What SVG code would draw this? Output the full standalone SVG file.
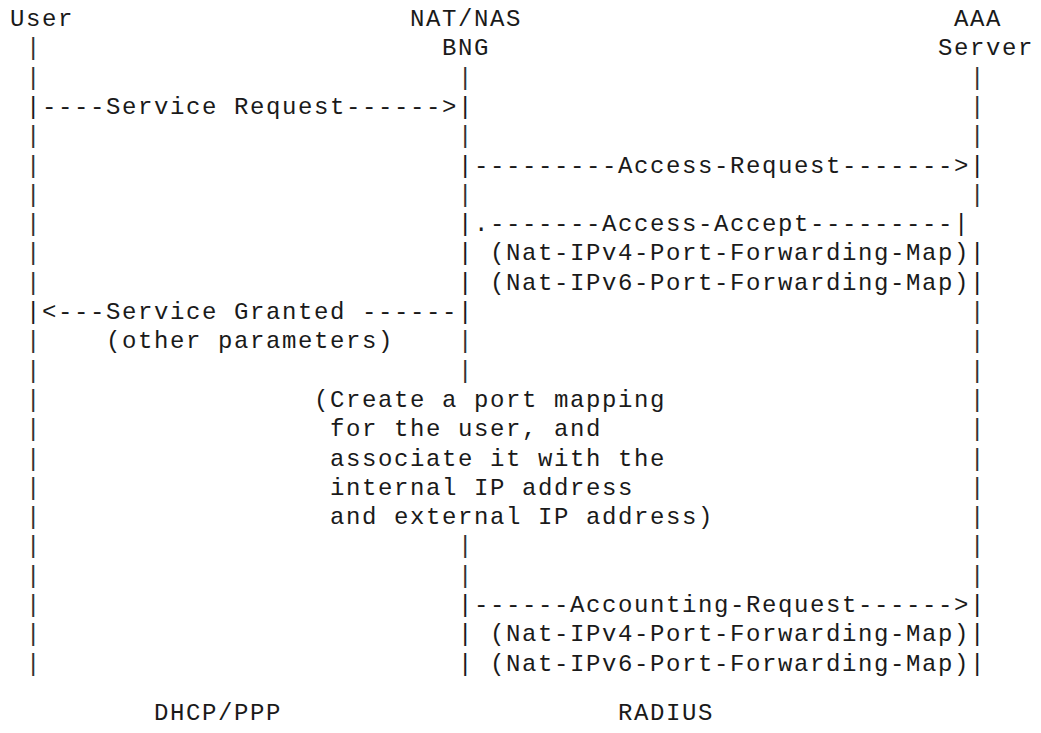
<svg xmlns="http://www.w3.org/2000/svg" width="1041" height="733" viewBox="0 0 1041 733" xml:space="preserve">
  <style>
    /* monospace grid: 16px per column, 29.3px per row */
    text { font-family: "Liberation Mono", "Courier New", monospace; font-size: 24px; letter-spacing: 1.6px; fill: #1a1a1a; white-space: pre; }
    .bar { fill: #333; }
  </style>
  <rect width="1041" height="733" fill="#fff"/>

  <!-- participants -->
  <g id="node-user">
    <text x="10" y="26">User</text>
  </g>
  <g id="node-bng">
    <text x="410" y="26">NAT/NAS</text>
    <text x="442" y="55.3">BNG</text>
  </g>
  <g id="node-aaa">
    <text x="954" y="26">AAA</text>
    <text x="938" y="55.3">Server</text>
  </g>

  <!-- lifelines and messages -->
  <g id="connectors">
    <!-- User lifeline, column 1 -->
    <g class="bar">
      <text class="bar" x="26" y="55.3">|</text>
      <text class="bar" x="26" y="84.6">|</text>
      <text class="bar" x="26" y="143.2">|</text>
      <text class="bar" x="26" y="172.5">|</text>
      <text class="bar" x="26" y="201.8">|</text>
      <text class="bar" x="26" y="231.1">|</text>
      <text class="bar" x="26" y="260.4">|</text>
      <text class="bar" x="26" y="289.7">|</text>
      <text class="bar" x="26" y="348.3">|</text>
      <text class="bar" x="26" y="377.6">|</text>
      <text class="bar" x="26" y="406.9">|</text>
      <text class="bar" x="26" y="436.2">|</text>
      <text class="bar" x="26" y="465.5">|</text>
      <text class="bar" x="26" y="494.8">|</text>
      <text class="bar" x="26" y="524.1">|</text>
      <text class="bar" x="26" y="553.4">|</text>
      <text class="bar" x="26" y="582.7">|</text>
      <text class="bar" x="26" y="612">|</text>
      <text class="bar" x="26" y="641.3">|</text>
      <text class="bar" x="26" y="670.6">|</text>
    </g>
    <!-- BNG lifeline, column 28 -->
    <g class="bar">
      <text class="bar" x="458" y="84.6">|</text>
      <text class="bar" x="458" y="143.2">|</text>
      <text class="bar" x="458" y="201.8">|</text>
      <text class="bar" x="458" y="348.3">|</text>
      <text class="bar" x="458" y="377.6">|</text>
      <text class="bar" x="458" y="553.4">|</text>
      <text class="bar" x="458" y="582.7">|</text>
    </g>
    <!-- AAA lifeline, column 60 -->
    <g class="bar">
      <text class="bar" x="970" y="84.6">|</text>
      <text class="bar" x="970" y="113.9">|</text>
      <text class="bar" x="970" y="143.2">|</text>
      <text class="bar" x="970" y="201.8">|</text>
      <text class="bar" x="970" y="319">|</text>
      <text class="bar" x="970" y="348.3">|</text>
      <text class="bar" x="970" y="377.6">|</text>
      <text class="bar" x="970" y="406.9">|</text>
      <text class="bar" x="970" y="436.2">|</text>
      <text class="bar" x="970" y="465.5">|</text>
      <text class="bar" x="970" y="494.8">|</text>
      <text class="bar" x="970" y="524.1">|</text>
      <text class="bar" x="970" y="553.4">|</text>
      <text class="bar" x="970" y="582.7">|</text>
    </g>

    <!-- messages -->
    <text x="26" y="113.9">|----Service Request------&gt;|</text>
    <text x="458" y="172.5">|---------Access-Request-------&gt;|</text>
    <text x="458" y="231.1">|.-------Access-Accept---------|</text>
    <text x="458" y="260.4">| (Nat-IPv4-Port-Forwarding-Map)|</text>
    <text x="458" y="289.7">| (Nat-IPv6-Port-Forwarding-Map)|</text>
    <text x="26" y="319">|&lt;---Service Granted ------|</text>
    <text x="106" y="348.3">(other parameters)</text>
    <text x="458" y="612">|------Accounting-Request------&gt;|</text>
    <text x="458" y="641.3">| (Nat-IPv4-Port-Forwarding-Map)|</text>
    <text x="458" y="670.6">| (Nat-IPv6-Port-Forwarding-Map)|</text>
  </g>

  <!-- processing note at the BNG -->
  <g id="note-port-mapping">
    <text x="314" y="406.9">(Create a port mapping</text>
    <text x="330" y="436.2">for the user, and</text>
    <text x="330" y="465.5">associate it with the</text>
    <text x="330" y="494.8">internal IP address</text>
    <text x="330" y="524.1">and external IP address)</text>
  </g>

  <!-- protocol labels -->
  <g id="protocols">
    <text x="154" y="720">DHCP/PPP</text>
    <text x="618" y="720">RADIUS</text>
  </g>
</svg>
